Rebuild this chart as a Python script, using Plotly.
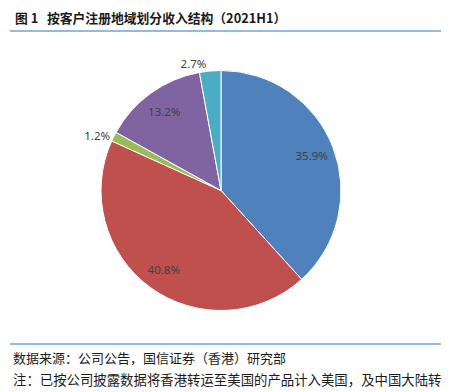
import plotly.graph_objects as go

labels = ["地区A", "地区B", "地区C", "地区D", "地区E"]
values = [35.9, 40.8, 1.2, 13.2, 2.7]
colors = ["#4F81BD", "#C0504D", "#9BBB59", "#8064A2", "#4BACC6"]
text_pos = ["inside", "inside", "outside", "inside", "outside"]

# page body has an 8px margin; figure sized to fit the window
OFF = 8
FW, FH = 455 - OFF, 392 - OFF


def px(x):
    return (x - OFF) / FW


def py(y):
    return 1 - (y - OFF) / FH


cx, cy, r = 221, 190.5, 120
dom = dict(x=[px(cx - r), px(cx + r)], y=[py(cy + r), py(cy - r)])
lab_font = dict(family="Noto Sans", size=11.5, color="#404040")

fig = go.Figure()
# coloured pie
fig.add_trace(go.Pie(
    labels=labels, values=values, sort=False, direction="clockwise", rotation=0,
    marker=dict(colors=colors, line=dict(color="white", width=1)),
    textinfo="none", showlegend=False, hoverinfo="skip", domain=dom,
))
# transparent ring that carries the labels (places inside labels toward the rim)
fig.add_trace(go.Pie(
    labels=labels, values=values, sort=False, direction="clockwise", rotation=0, hole=0.62,
    marker=dict(colors=["rgba(0,0,0,0)"] * len(values), line=dict(width=0)),
    text=[f"{v}%" for v in values], textinfo="text", textposition=text_pos,
    insidetextorientation="horizontal",
    textfont=lab_font, outsidetextfont=lab_font, insidetextfont=lab_font,
    showlegend=False, hoverinfo="skip", domain=dom,
))

line_color = "#6FA3D6"
for yy in (31, 344):
    fig.add_shape(type="line", xref="paper", yref="paper", x0=px(10), x1=px(441),
                  y0=py(yy), y1=py(yy), line=dict(color=line_color, width=1.5))

cjk = "Noto Sans CJK SC"
fig.add_annotation(text="<b>图 1   按客户注册地域划分收入结构（2021H1）</b>", xref="paper", yref="paper",
                   x=px(13), y=py(18), xanchor="left", yanchor="middle", showarrow=False,
                   font=dict(family=cjk, size=12.8, color="#1a1a1a"))
fig.add_annotation(text="数据来源：公司公告，国信证券（香港）研究部", xref="paper", yref="paper",
                   x=px(11), y=py(357), xanchor="left", yanchor="middle", showarrow=False,
                   font=dict(family=cjk, size=13, color="#1a1a1a"))
fig.add_annotation(text="注：已按公司披露数据将香港转运至美国的产品计入美国，及中国大陆转", xref="paper", yref="paper",
                   x=px(11), y=py(379), xanchor="left", yanchor="middle", showarrow=False,
                   font=dict(family=cjk, size=13.4, color="#1a1a1a"))

fig.update_layout(width=FW, height=FH, margin=dict(l=0, r=0, t=0, b=0),
                  paper_bgcolor="white", plot_bgcolor="white")
fig.write_html("out.html")
